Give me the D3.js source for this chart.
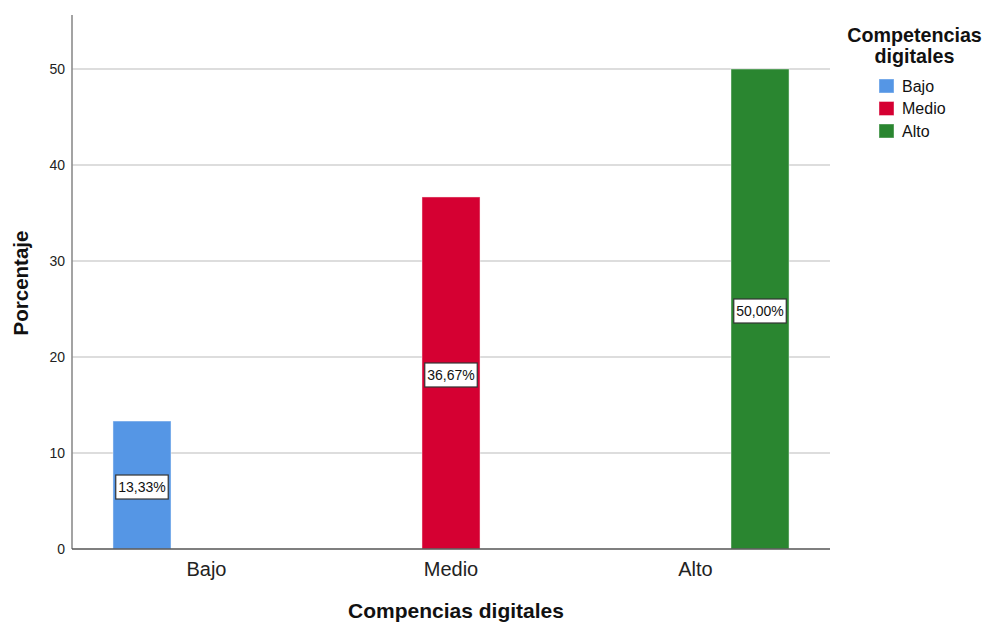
<!DOCTYPE html>
<html>
<head>
<meta charset="utf-8">
<script src="https://cdn.jsdelivr.net/npm/d3@7"></script>
<style>
  html, body { margin: 0; padding: 0; background: #fff; }
  svg { display: block; font-family: "Liberation Sans", Arial, sans-serif; }
</style>
</head>
<body>
<svg id="chart" width="987" height="624"></svg>
<script>
// ---- Data ----
const categories = ["Bajo", "Medio", "Alto"];
const seriesNames = ["Bajo", "Medio", "Alto"];
const seriesColors = ["#5596e5", "#d50032", "#2a8630"];
const percentages = [13.33, 36.67, 50.00];   // one value per category (series == category)
const yTicks = [0, 10, 20, 30, 40, 50];
const xTitle = "Compencias digitales";
const yTitle = "Porcentaje";
const legendTitle = ["Competencias", "digitales"];

// ---- Layout ----
const svg = d3.select("#chart");
const plot = { left: 72, right: 830, top: 15, bottom: 549 };

const x = d3.scaleBand().domain(categories)
  .range([plot.left, plot.right]).paddingInner(0).paddingOuter(0.05);
const xSub = d3.scaleBand().domain(seriesNames)
  .range([0, 193.5]).paddingInner(0.1).paddingOuter(0.05);
const y = d3.scaleLinear().domain([0, 55.625]).range([plot.bottom, plot.top]);
const color = d3.scaleOrdinal().domain(seriesNames).range(seriesColors);

const loc = d3.formatLocale({ decimal: ",", thousands: ".", grouping: [3], currency: ["", "€"] });
const fmt = loc.format(".2f");

// gridlines
svg.append("g").selectAll("line").data(yTicks.filter(d => d > 0)).join("line")
  .attr("x1", plot.left).attr("x2", plot.right)
  .attr("y1", d => y(d)).attr("y2", d => y(d))
  .attr("stroke", "#d2d2d2").attr("stroke-width", 1.3);

// y axis
const yAxis = d3.axisLeft(y).tickValues(yTicks).tickSize(0).tickPadding(7).tickFormat(d3.format("d"));
const gy = svg.append("g").attr("transform", `translate(${plot.left},0)`).call(yAxis);
gy.select(".domain").remove();
gy.selectAll("text").attr("font-size", 14).attr("fill", "#222")
  .attr("font-family", "Liberation Sans, Arial, sans-serif");
svg.append("line").attr("x1", plot.left).attr("x2", plot.left)
  .attr("y1", plot.top).attr("y2", plot.bottom)
  .attr("stroke", "#8c8c8c").attr("stroke-width", 1.6);

// bars
const rows = categories.map((c, i) => ({ cat: c, series: seriesNames[i], value: percentages[i] }));
const cx = d => x(d.cat) + x.bandwidth() / 2 - 193.5 / 2 + xSub(d.series);

svg.append("g").selectAll("rect").data(rows).join("rect")
  .attr("x", d => cx(d))
  .attr("y", d => y(d.value))
  .attr("width", xSub.bandwidth())
  .attr("height", d => y(0) - y(d.value))
  .attr("fill", d => color(d.series))
  .attr("stroke", "#ffffff").attr("stroke-opacity", 0.45).attr("stroke-width", 1);

// x axis
const xAxis = d3.axisBottom(x).tickSize(0).tickPadding(13);
const gx = svg.append("g").attr("transform", `translate(0,${plot.bottom})`).call(xAxis);
gx.select(".domain").remove();
gx.selectAll("text").attr("font-size", 20).attr("fill", "#222")
  .attr("font-family", "Liberation Sans, Arial, sans-serif");
svg.append("line").attr("x1", plot.left).attr("x2", plot.right)
  .attr("y1", plot.bottom).attr("y2", plot.bottom)
  .attr("stroke", "#555").attr("stroke-width", 1.4);

// value labels
const lab = svg.append("g").selectAll("g").data(rows).join("g")
  .attr("transform", d => `translate(${cx(d) + xSub.bandwidth() / 2},${(y(0) + y(d.value)) / 2 + 2})`);
lab.append("text").text(d => fmt(d.value) + "%")
  .attr("text-anchor", "middle").attr("dy", "0.35em")
  .attr("font-size", 14).attr("fill", "#111");
lab.each(function () {
  const g = d3.select(this);
  const bb = g.select("text").node().getBBox();
  g.insert("rect", "text")
    .attr("x", bb.x - 2.5).attr("y", -12)
    .attr("width", bb.width + 5).attr("height", 24)
    .attr("fill", "#fff").attr("stroke", "#333").attr("stroke-width", 1.2);
});

// axis titles
svg.append("text").attr("x", 456).attr("y", 618).attr("text-anchor", "middle")
  .attr("font-size", 21).attr("font-weight", "bold").attr("fill", "#111").text(xTitle);
svg.append("text").attr("transform", "translate(27.5,283) rotate(-90)").attr("text-anchor", "middle")
  .attr("font-size", 20.5).attr("font-weight", "bold").attr("fill", "#111").text(yTitle);

// legend
const lg = svg.append("g");
lg.selectAll("text.title").data(legendTitle).join("text").attr("class", "title")
  .attr("x", 914.5).attr("y", (d, i) => 42 + i * 21).attr("text-anchor", "middle")
  .attr("font-size", 19.7).attr("font-weight", "bold").attr("fill", "#111").text(d => d);
const items = lg.selectAll("g.item").data(seriesNames).join("g").attr("class", "item")
  .attr("transform", (d, i) => `translate(879,${79 + i * 22.5})`);
items.append("rect").attr("width", 15).attr("height", 14)
  .attr("fill", d => color(d)).attr("stroke", "#fff").attr("stroke-opacity", 0.4);
items.append("text").attr("x", 23).attr("y", 7).attr("dy", "0.36em")
  .attr("font-size", 16).attr("fill", "#111").text(d => d);
</script>
</body>
</html>
